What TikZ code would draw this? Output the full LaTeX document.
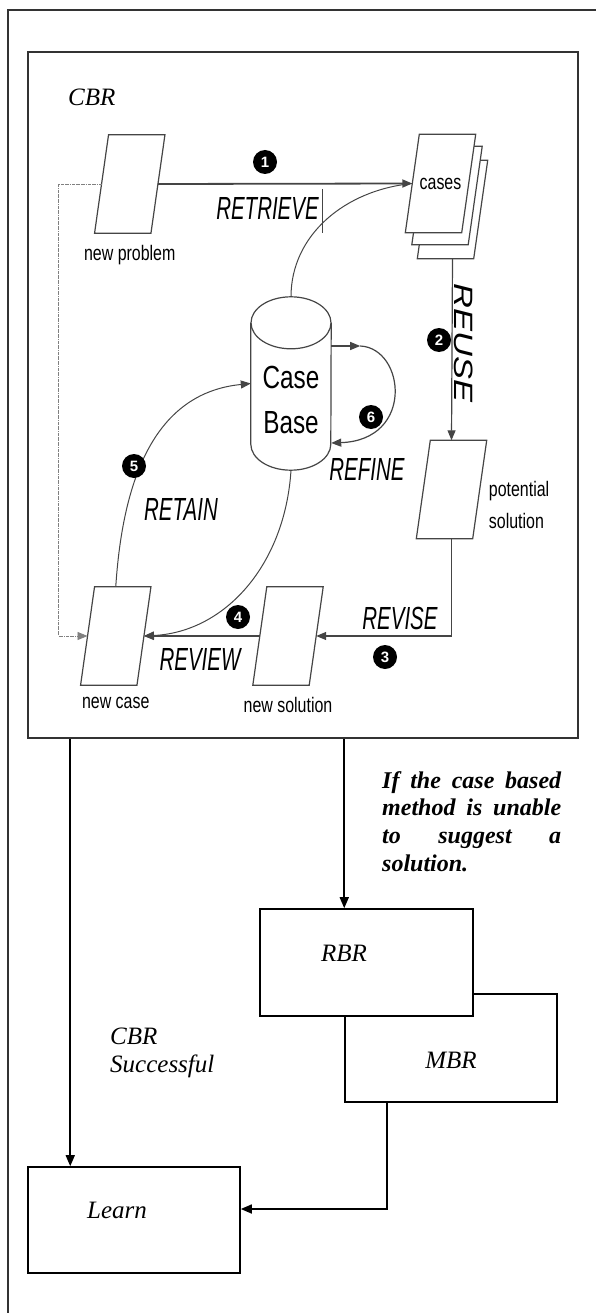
\documentclass[tikz,border=0pt]{standalone}
\usepackage{fontspec}
\setmainfont{Liberation Serif}
\newfontfamily\stepfont[FakeStretch=0.64]{Liberation Sans}
\newfontfamily\sheetfont[FakeStretch=0.76]{Liberation Sans}
\newfontfamily\reusefont[FakeStretch=1.3]{Liberation Sans}
\newfontfamily\numfont{Liberation Sans}
\usetikzlibrary{positioning, calc, arrows.meta}
\definecolor{cbgray}{HTML}{454545}

\tikzset{
  sheetbox/.style={minimum width=56pt, minimum height=98pt, inner sep=0pt},
  sheetlabel/.style={font=\sheetfont\fontsize{21}{24}\selectfont, inner sep=0pt},
  cbtext/.style={font=\sheetfont\fontsize{32}{45}\selectfont, inner sep=0pt, align=center},
  steplabel/.style={font=\stepfont\itshape\fontsize{32}{36}\selectfont, inner sep=0pt},
  stepnum/.style={circle, fill=black, text=white, minimum size=24pt, inner sep=0pt,
    font=\numfont\bfseries\fontsize{15}{15}\selectfont},
  cbline/.style={draw=cbgray, line width=1.2pt},
  cbcurve/.style={draw=cbgray, line width=1pt},
  cbtip/.style={-{Triangle[length=10pt,width=8pt]}},
  blockbox/.style={draw, line width=1.6pt, fill=white, inner sep=0pt},
  boxtext/.style={font=\itshape\fontsize{25}{28}\selectfont, inner sep=0pt},
  flow/.style={line width=1.6pt, -{Triangle[length=11pt,width=9pt]}},
}

% slanted sheet: named box node plus its outline and text
\newcommand{\cbsheet}[3]{%
  \node[sheetbox] (#1) at (#2) {};
  \draw[cbline, fill=white] ($(#1.north west)+(7,0)$) -- ($(#1.north east)+(7,0)$)
      -- ($(#1.south east)+(-7,0)$) -- ($(#1.south west)+(-7,0)$) -- cycle;
  \node[sheetlabel] (#1txt) at (#1) {#3};%
}

\begin{document}
\begin{tikzpicture}[x=1pt, y=-1pt]
    \useasboundingbox (0,0) rectangle (596,1313);

    % --- Outer frame (open to the right and bottom) ---
    \draw[line width=1.5pt, draw=black!80] (8,1313) -- (8,10) -- (596,10);

    % --- CBR block ---
    \node[draw=black!80, line width=1.5pt, minimum width=550pt, minimum height=686pt,
          inner sep=0pt] (cbrbox) at (303,395) {};
    \node[boxtext, anchor=west] (cbrlab) at (68,97) {CBR};

    % --- Sheets ---
    \cbsheet{np}{129.75,184}{}
    \node[sheetlabel, below=12pt of np] (nplab) {new problem};
    \cbsheet{cs3}{452.5,209.5}{}
    \cbsheet{cs2}{447,195.5}{}
    \cbsheet{cs1}{440.5,183.5}{cases}
    \cbsheet{ps}{451.5,489.5}{}
    \node[sheetlabel, align=left, anchor=west, font=\sheetfont\fontsize{21}{32}\selectfont]
          (pslab) at ($(ps.east)+(9,15)$) {potential\\solution};
    \cbsheet{ns}{288,636}{}
    \node[sheetlabel, below=12pt of ns] (nslab) {new solution};
    \cbsheet{nc}{115.75,636}{}
    \node[sheetlabel, below=12pt of nc] (nclab) {new case};

    % --- Case Base cylinder ---
    \node[minimum width=80pt, minimum height=173pt, inner sep=0pt] (cb) at (291,383.5) {};
    \draw[cbline, fill=white] ($(cb.north west)+(0,26)$) -- ($(cb.south west)+(0,-26)$)
        arc[start angle=180, end angle=0, x radius=40, y radius=26]
        -- ($(cb.north east)+(0,26)$);
    \draw[cbline] ($(cb.north)+(0,26)$) ellipse[x radius=40, y radius=26];
    \node[cbtext] (cbtxt) at (291,400) {Case\\Base};

    % --- 1: retrieve ---
    \draw[cbline, line width=1.8pt, cbtip] (np.east) -- (cs1.west);
    \draw[cbcurve] (cb.north) .. controls (291,235) and (345,190) .. (cs1.west);
    \draw[cbcurve] (322,189) -- (322,233);
    \node[stepnum] (n1) at (265,162) {1};
    \node[steplabel] (retrieve) at (267.5,208) {RETRIEVE};

    % --- 2: reuse ---
    \draw[cbline, cbtip] (cs3.south) -- (ps.north);
    \node[stepnum] (n2) at (439,340) {2};
    \node[font=\reusefont\itshape\fontsize{26.5}{30}\selectfont, rotate=-90,
          inner sep=0pt] (reuse) at (464,343) {REUSE};

    % --- 3: revise ---
    \draw[cbline, cbtip] (ps.south) |- (ns.east);
    \node[stepnum] (n3) at (385,657) {3};
    \node[steplabel] (revise) at (400,618) {REVISE};

    % --- 4: review ---
    \draw[cbline, cbtip] (ns.west) -- (nc.east);
    \draw[cbcurve, cbtip] (cb.south) .. controls (285,565) and (225,632) .. (nc.east);
    \node[stepnum] (n4) at (238,617) {4};
    \node[steplabel] (review) at (200,659) {REVIEW};

    % --- 5: retain ---
    \draw[cbcurve, cbtip] (nc.north) .. controls (124,460) and (165,392) .. (cb.west);
    \node[stepnum] (n5) at (134,466) {5};
    \node[steplabel] (retain) at (181,509) {RETAIN};

    % --- 6: refine ---
    \coordinate (rf) at ($(cb.east)+(29,-37.5)$);
    \draw[cbline, cbtip] ($(cb.east)+(0,-37.5)$) -- (rf);
    \draw[cbline, cbtip] (rf) .. controls (405,348) and (415,440) .. ($(cb.east)+(0,59.5)$);
    \node[stepnum] (n6) at (371,417) {6};
    \node[steplabel] (refine) at (367,469) {REFINE};

    % --- Feedback from new problem to new case ---
    \draw[densely dashdotted, draw=gray, line width=0.8pt, cbtip]
        (np.west) -- ++(-43,0) |- (nc.west);

    % --- Lower blocks ---
    \node[blockbox, minimum width=212pt, minimum height=108pt] (mbr) at (451,1048) {};
    \node[blockbox, minimum width=213pt, minimum height=107pt] (rbr) at (366.5,962.5) {};
    \node[blockbox, minimum width=212pt, minimum height=106pt] (learn) at (134,1220) {};
    \node[boxtext] (rbrlab) at (344,953) {RBR};
    \node[boxtext] (mbrlab) at (451,1060) {MBR};
    \node[boxtext] (learnlab) at (117,1210) {Learn};

    % --- Flow between blocks ---
    \coordinate (cbrl) at ($(cbrbox.south west)+(43,0)$);
    \coordinate (cbrr) at ($(cbrbox.south west)+(317,0)$);
    \draw[flow] (cbrl) -- (cbrl |- learn.north);
    \draw[flow] (cbrr) -- (cbrr |- rbr.north);
    \draw[flow] ($(mbr.south west)+(43,0)$) |- ($(learn.east)+(0,-11)$);

    % --- Side notes ---
    \node[boxtext, align=left, anchor=west, font=\itshape\fontsize{25}{28}\selectfont]
          (oklab) at (110,1053) {CBR\\Successful};
    \node[anchor=north west, inner sep=0pt, text width=179pt, align=justify,
          font=\bfseries\itshape\fontsize{24}{27.7}\selectfont] (faillab) at (382,771)
          {If the case based\linebreak method is unable\linebreak to suggest a\linebreak solution.};

\end{tikzpicture}
\end{document}
